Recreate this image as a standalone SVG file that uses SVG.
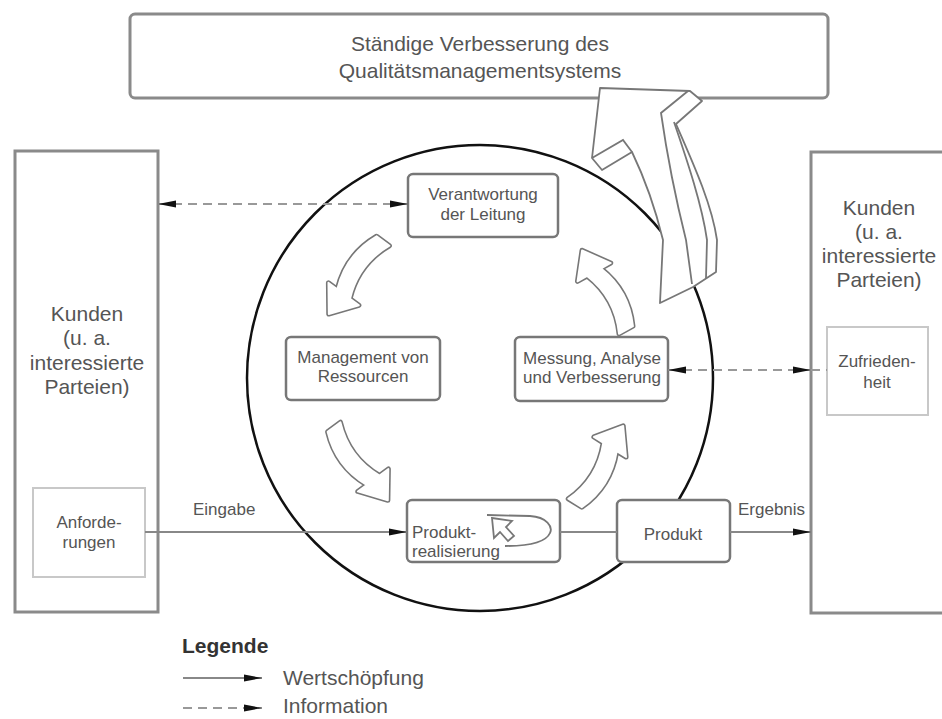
<svg xmlns="http://www.w3.org/2000/svg" xmlns:xlink="http://www.w3.org/1999/xlink" width="942" height="719" viewBox="0 0 942 719">
<style>
text{font-family:"Liberation Sans",Arial,sans-serif;fill:#555}
.big{font-size:21px}
.box{font-size:17px}
.mid{text-anchor:middle}
.frame{fill:#fff;stroke:#8a8a8a;stroke-width:3}
.inner{fill:#fff;stroke:#c8c8c8;stroke-width:2}
.node{fill:#fff;stroke:#777;stroke-width:2.5}
.flow{stroke:#888;stroke-width:2;fill:none}
.info{stroke:#999;stroke-width:2;fill:none;stroke-dasharray:9 6}
.bo{fill:#fff;stroke:#777;stroke-width:5;stroke-linejoin:round}
.bi{fill:#fff;stroke:#fff;stroke-width:1.8;stroke-linejoin:round}
.big-arrow{fill:#fff;stroke:#777;stroke-width:1.8;stroke-linejoin:round}
.thin{fill:none;stroke:#777;stroke-width:1.8}
</style>
<defs>
<marker id="ah" viewBox="0 0 18 8" refX="18" refY="4" markerWidth="18" markerHeight="8" markerUnits="userSpaceOnUse" orient="auto-start-reverse">
<path d="M0,0.5 L18,4 L0,7.5 Z" fill="#111"/>
</marker>
<path id="barrow" d="M0,-8 Q33,6 66,-8 L66,-19 L91,0 L66,19 L66,8 Q33,22 0,8 Z"/>
</defs>
<rect width="942" height="719" fill="#fff"/>

<g id="top-box">
<rect class="frame" x="130" y="14" width="698" height="84" rx="5"/>
<text class="big mid" x="480" y="51">Ständige Verbesserung des</text>
<text class="big mid" x="480" y="78">Qualitätsmanagementsystems</text>
</g>

<g id="circle">
<circle cx="480" cy="378" r="233" fill="none" stroke="#111" stroke-width="2.5"/>
</g>

<g id="kunden-links">
<rect class="frame" x="15" y="151" width="143" height="461"/>
<text class="big mid" x="87" y="321">Kunden</text>
<text class="big mid" x="87" y="345">(u. a.</text>
<text class="big mid" x="87" y="370">interessierte</text>
<text class="big mid" x="87" y="394">Parteien)</text>
</g>
<g id="anforderungen">
<rect class="inner" x="33" y="488" width="112" height="89"/>
<text class="box mid" x="89" y="528">Anforde-</text>
<text class="box mid" x="89" y="548">rungen</text>
</g>

<g id="kunden-rechts">
<rect class="frame" x="811" y="152" width="140" height="461"/>
<text class="big mid" x="879" y="215">Kunden</text>
<text class="big mid" x="879" y="239">(u. a.</text>
<text class="big mid" x="879" y="263">interessierte</text>
<text class="big mid" x="879" y="287">Parteien)</text>
</g>
<g id="zufriedenheit">
<rect class="inner" x="827" y="327" width="101" height="88"/>
<text class="box mid" x="877" y="367">Zufrieden-</text>
<text class="box mid" x="877" y="388">heit</text>
</g>

<g id="verantwortung">
<rect class="node" x="408" y="174" width="150" height="63" rx="5"/>
<text class="box mid" x="483" y="200">Verantwortung</text>
<text class="box mid" x="483" y="220">der Leitung</text>
</g>
<g id="management">
<rect class="node" x="286" y="337" width="154" height="63" rx="5"/>
<text class="box mid" x="363" y="363">Management von</text>
<text class="box mid" x="363" y="382">Ressourcen</text>
</g>
<g id="messung">
<rect class="node" x="515" y="337" width="153" height="64" rx="5"/>
<text class="box mid" x="592" y="364">Messung, Analyse</text>
<text class="box mid" x="592" y="383">und Verbesserung</text>
</g>
<g id="produktrealisierung">
<rect class="node" x="407" y="500" width="153" height="62" rx="5"/>
<path class="thin" d="M487,515 L530,516 C547,517 553,527 550,533 C546,542 530,546 505,546"/>
<path class="thin" d="M492,518 L512,521 L506,527 L514,536 L508,541 L500,532 L494,538 Z"/>
<text class="box" x="412" y="538">Produkt-</text>
<text class="box" x="412" y="557">realisierung</text>
</g>
<g id="produkt">
<rect class="node" x="617" y="500" width="113" height="62" rx="5"/>
<text class="box mid" x="673" y="540">Produkt</text>
</g>

<g id="kreislauf-pfeile">
<g transform="translate(383,241) rotate(126.6)"><use xlink:href="#barrow" class="bo"/><use xlink:href="#barrow" class="bi"/></g>
<g transform="translate(334,427) rotate(53.7)"><use xlink:href="#barrow" class="bo"/><use xlink:href="#barrow" class="bi"/></g>
<g transform="translate(575,503) rotate(-58)"><use xlink:href="#barrow" class="bo"/><use xlink:href="#barrow" class="bi"/></g>
<g transform="translate(626,330) rotate(-118.9)"><use xlink:href="#barrow" class="bo"/><use xlink:href="#barrow" class="bi"/></g>
</g>

<g id="verbesserungs-pfeil">
<path class="big-arrow" d="M600,88 L690,91 L702,101 L676,124 C694,165 712,205 717,240 L716,272 L693,287 L660,303 L663,240 C654,203 644,177 632,152 L602,170 L592,158 Z"/>
<path class="thin" d="M592,158 L623,140 L632,152"/>
<path class="thin" d="M688,91 L661,113 C667,155 676,200 686,240 L692,284"/>
<path class="thin" d="M674,122 C688,163 702,205 707,240 L706,278"/>
</g>

<g id="connectors">
<line class="flow" x1="145" y1="532" x2="407" y2="532" marker-end="url(#ah)"/>
<line class="flow" x1="560" y1="532" x2="617" y2="532"/>
<line class="flow" x1="730" y1="532" x2="811" y2="532" marker-end="url(#ah)"/>
<line class="info" x1="158" y1="204" x2="408" y2="204" marker-start="url(#ah)" marker-end="url(#ah)"/>
<line class="info" x1="668" y1="370" x2="811" y2="370" marker-start="url(#ah)" marker-end="url(#ah)"/>
<line class="info" x1="811" y1="370" x2="827" y2="370"/>
<text class="box" x="193" y="515">Eingabe</text>
<text class="box" x="738" y="515">Ergebnis</text>
</g>

<g id="legende">
<text class="big" x="182" y="653" style="font-weight:bold;fill:#333">Legende</text>
<line class="flow" x1="183" y1="678" x2="262" y2="678" marker-end="url(#ah)"/>
<text class="big" x="283" y="685">Wertschöpfung</text>
<line class="info" x1="183" y1="708" x2="262" y2="708" marker-end="url(#ah)"/>
<text class="big" x="283" y="713">Information</text>
</g>
</svg>
